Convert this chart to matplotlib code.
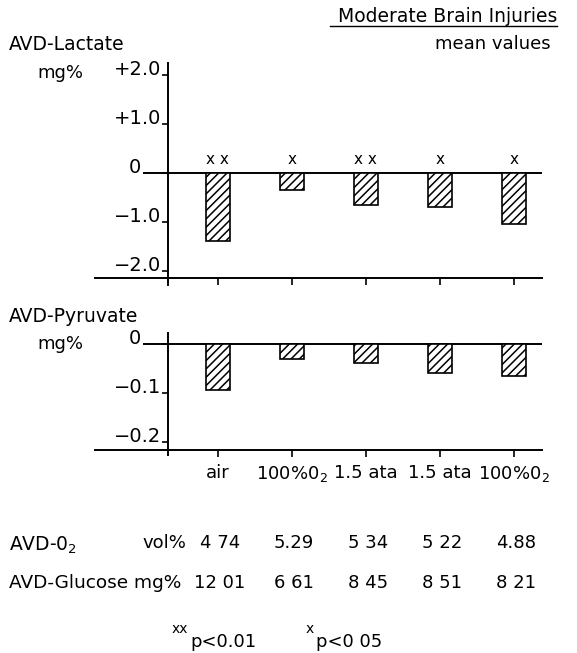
import numpy as np
import matplotlib
matplotlib.use("Agg")
import matplotlib.pyplot as plt
import matplotlib.transforms as mtransforms

# mean arterio-venous differences, moderate brain injuries
categories = ["air", "100%0$_2$", "1.5 ata", "1.5 ata", "100%0$_2$"]
lactate = [-1.39, -0.35, -0.65, -0.69, -1.04]
pyruvate = [-0.094, -0.031, -0.039, -0.059, -0.065]
signif = ["x x", "x", "x x", "x", "x"]
avd_o2 = ["4 74", "5.29", "5 34", "5 22", "4.88"]
avd_glucose = ["12 01", "6 61", "8 45", "8 51", "8 21"]

lactate_ticks = [2.0, 1.0, 0, -1.0, -2.0]
lactate_labels = ["+2.0", "+1.0", "0", "\u22121.0", "\u22122.0"]
pyruvate_ticks = [0, -0.1, -0.2]
pyruvate_labels = ["0", "\u22120.1", "\u22120.2"]

plt.rcParams["font.family"] = ["DejaVu Sans"]
plt.rcParams["hatch.linewidth"] = 1.1

W, H = 577, 653
fig = plt.figure(figsize=(W / 100, H / 100), dpi=100)


def fx(x):
    return x / W


def fy(y):
    return 1 - y / H


x = np.arange(len(categories))
x_left, x_right = -1.66, 4.38
yaxis_x = -0.676
bar_w = 0.33


def style_axes(ax, ticks, labels, bottom):
    ax.set_xlim(x_left, x_right)
    for s in ["top", "right"]:
        ax.spines[s].set_visible(False)
    ax.spines["left"].set_position(("data", yaxis_x))
    ax.spines["bottom"].set_position(("data", bottom))
    ax.spines["left"].set_linewidth(1.4)
    ax.spines["bottom"].set_linewidth(1.4)
    ax.set_yticks(ticks)
    ax.set_yticklabels(labels, fontsize=14)
    ax.tick_params(axis="y", direction="out", length=4, width=1.2, pad=1)
    ax.tick_params(axis="x", direction="out", length=5, width=1.2)
    ax.set_xticks(x)
    ax.patch.set_visible(False)
    # labels sit on their tick, the zero label further left of the zero line
    for t, lab in zip(ticks, ax.get_yticklabels()):
        lab.set_va("baseline")
        if t == 0:
            lab.set_transform(lab.get_transform() + mtransforms.ScaledTranslation(
                -0.2, 0, fig.dpi_scale_trans))


# AVD-Lactate panel
ax1 = fig.add_axes([fx(95), fy(285), fx(542 - 95), (285 - 63) / H])
ax1.set_ylim(-2.29, 2.245)
style_axes(ax1, lactate_ticks, lactate_labels, -2.14)
ax1.set_xticklabels([])
ax1.hlines(0, -1.01, x_right, color="black", lw=1.4)
ax1.bar(x, lactate, width=bar_w, align="center", color="white",
        edgecolor="black", hatch="////", linewidth=1.2, zorder=3)
for xi, s in zip(x, signif):
    ax1.text(xi, 0.27, s, ha="center", va="center", fontsize=11)

# AVD-Pyruvate panel
ax2 = fig.add_axes([fx(95), fy(455), fx(542 - 95), (455 - 333) / H])
ax2.set_ylim(-0.2265, 0.0224)
style_axes(ax2, pyruvate_ticks, pyruvate_labels, -0.216)
ax2.set_xticklabels(categories, fontsize=13)
ax2.tick_params(axis="x", pad=5)
ax2.hlines(0, -1.01, x_right, color="black", lw=1.4)
ax2.bar(x, pyruvate, width=bar_w, align="center", color="white",
        edgecolor="black", hatch="////", linewidth=1.2, zorder=3)

# headings
fig.text(fx(557), fy(16), "Moderate Brain Injuries", ha="right", va="center",
         fontsize=13.5)
fig.add_artist(plt.Line2D([fx(330), fx(557)], [fy(26), fy(26)],
                          color="black", lw=1.0))
fig.text(fx(551), fy(44), "mean values", ha="right", va="center", fontsize=13)
fig.text(fx(9), fy(45), "AVD-Lactate", ha="left", va="center", fontsize=13.5)
fig.text(fx(37), fy(73), "mg%", ha="left", va="center", fontsize=13)
fig.text(fx(9), fy(316), "AVD-Pyruvate", ha="left", va="center", fontsize=13.5)
fig.text(fx(37), fy(344), "mg%", ha="left", va="center", fontsize=13)

# table of AVD-O2 and AVD-Glucose under the bars
trans = mtransforms.blended_transform_factory(ax2.transData, fig.transFigure)
fig.text(fx(9), fy(545), "AVD-0$_2$", ha="left", va="center", fontsize=13.5)
fig.text(fx(142), fy(543), "vol%", ha="left", va="center", fontsize=13)
fig.text(fx(9), fy(583), "AVD-Glucose mg%", ha="left", va="center",
         fontsize=13.3)
for xi, a, b in zip(x, avd_o2, avd_glucose):
    fig.text(xi + 0.03, fy(543), a, ha="center", va="center", fontsize=13,
             transform=trans)
    fig.text(xi + 0.03, fy(583), b, ha="center", va="center", fontsize=13,
             transform=trans)

# significance footnote
fig.text(fx(172), fy(629), "xx", ha="left", va="center", fontsize=10)
fig.text(fx(190), fy(642), "p<0.01", ha="left", va="center", fontsize=13)
fig.text(fx(306), fy(629), "x", ha="left", va="center", fontsize=10)
fig.text(fx(316), fy(642), "p<0 05", ha="left", va="center", fontsize=13)

fig.savefig("out.png", dpi=100)
